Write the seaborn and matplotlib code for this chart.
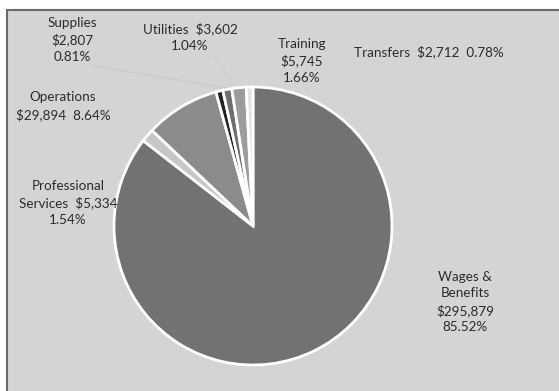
import matplotlib
matplotlib.use("Agg")
import matplotlib.pyplot as plt
import seaborn as sns
from matplotlib.patches import Rectangle

sns.set_style("white")
plt.rcParams['font.family'] = ['Lato', 'DejaVu Sans']

categories = ["Wages &\nBenefits", "Professional\nServices", "Operations", "Supplies",
              "Utilities", "Training", "Transfers"]
values = [295879, 5334, 29894, 2807, 3602, 5745, 2712]
percents = ["85.52%", "1.54%", "8.64%", "0.81%", "1.04%", "1.66%", "0.78%"]
colors = ["#727272", "#c6c6c6", "#8b8b8b", "#222222", "#6e6e6e", "#9c9c9c", "#e2e2e2"]

W, H = 559, 391
fig = plt.figure(figsize=(W / 100, H / 100), dpi=100)
fig.patch.set_facecolor("white")
ax = fig.add_axes([0, 0, 1, 1])
ax.set_xlim(0, W)
ax.set_ylim(0, H)
ax.set_aspect("equal")
ax.axis("off")

# frame
ax.add_patch(Rectangle((7, -5), W, H - 10 + 5, facecolor="#d4d4d4",
                       edgecolor="#6a6a6a", linewidth=1.5, zorder=0))

cx, cy, r = 253, H - 226, 139
ax.pie(values, colors=colors, startangle=90, counterclock=False,
       center=(cx, cy), radius=r, frame=True,
       wedgeprops=dict(edgecolor="white", linewidth=2.0))
ax.set_xlim(0, W)
ax.set_ylim(0, H)
ax.axis("off")

def fmt(v):
    return "${:,}".format(v)

labels = [
    ("Wages &\nBenefits\n" + fmt(values[0]) + "\n" + percents[0], (465, 302)),
    ("Professional\nServices  " + fmt(values[1]) + "\n" + percents[1], (68, 203)),
    ("Operations\n" + fmt(values[2]) + "  " + percents[2], (63, 106)),
    ("Supplies\n" + fmt(values[3]) + "\n" + percents[3], (72, 40)),
    ("Utilities  " + fmt(values[4]) + "\n" + percents[4], (190, 37)),
    ("Training\n" + fmt(values[5]) + "\n" + percents[5], (302, 61)),
    ("Transfers  " + fmt(values[6]) + "  " + percents[6], (429, 52)),
]
for txt, (x, y) in labels:
    ax.text(x, H - y, txt, ha="center", va="center", fontsize=9.7,
            color="#2b2b2b", linespacing=1.45)

# faint leader lines
ax.plot([92, 226], [H - 66, H - 88], color="#c9c9c9", lw=0.7, zorder=1)
ax.plot([215, 232], [H - 56, H - 84], color="#cbcbcb", lw=0.7, zorder=1)

fig.savefig("out.png", dpi=100, facecolor="white")
